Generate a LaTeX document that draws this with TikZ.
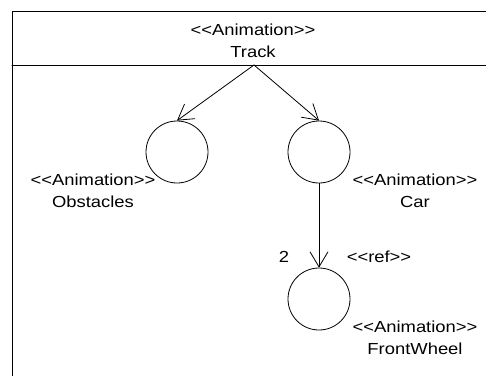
\documentclass[tikz,border=0pt]{standalone}
\usepackage{fontspec}
\setmainfont{Liberation Sans}[FakeStretch=1.15,Ligatures=TeXOff]
\usetikzlibrary{arrows.meta}
\newcommand{\stereo}[1]{<<#1>>}
\begin{document}
\begin{tikzpicture}[x=1pt,y=-1pt,line cap=round,line join=round,>={Straight Barb[length=15pt,width=18pt]},
	obj/.style={circle,draw,line width=0.8pt,minimum size=62pt,inner sep=0pt},
	lbl/.style={align=center,inner sep=0pt,font=\fontsize{16}{22}\selectfont}]
	\useasboundingbox (0,0) rectangle (486,375);
	% frame of Track
	\draw[line width=1pt] (12,380) -- (12,11) -- (490,11);
	\draw[line width=1pt] (12,65) -- (490,65);
	\node[lbl] (track) at (253,41) {\stereo{Animation}\\Track};
	\coordinate (src) at (254,65);
	% parts
	\node[obj] (obstacles) at (177,152) {};
	\node[obj] (car) at (319,152) {};
	\node[obj] (wheel) at (319,299) {};
	\node[lbl] (obstlbl) at (93,191) {\stereo{Animation}\\Obstacles};
	\node[lbl] (carlbl) at (415,191) {\stereo{Animation}\\Car};
	\node[lbl] (wheellbl) at (415,337.5) {\stereo{Animation}\\FrontWheel};
	\node[lbl,anchor=base] (mult) at (284,262.7) {2};
	\node[lbl,anchor=base] (reflbl) at (379,262.7) {\stereo{ref}};
	% links
	\draw[->,line width=0.8pt] (src) -- (obstacles.north);
	\draw[->,line width=0.8pt] (src) -- (car.north);
	\draw[->,line width=0.8pt] (car.south) -- (wheel.north);
\end{tikzpicture}
\end{document}
